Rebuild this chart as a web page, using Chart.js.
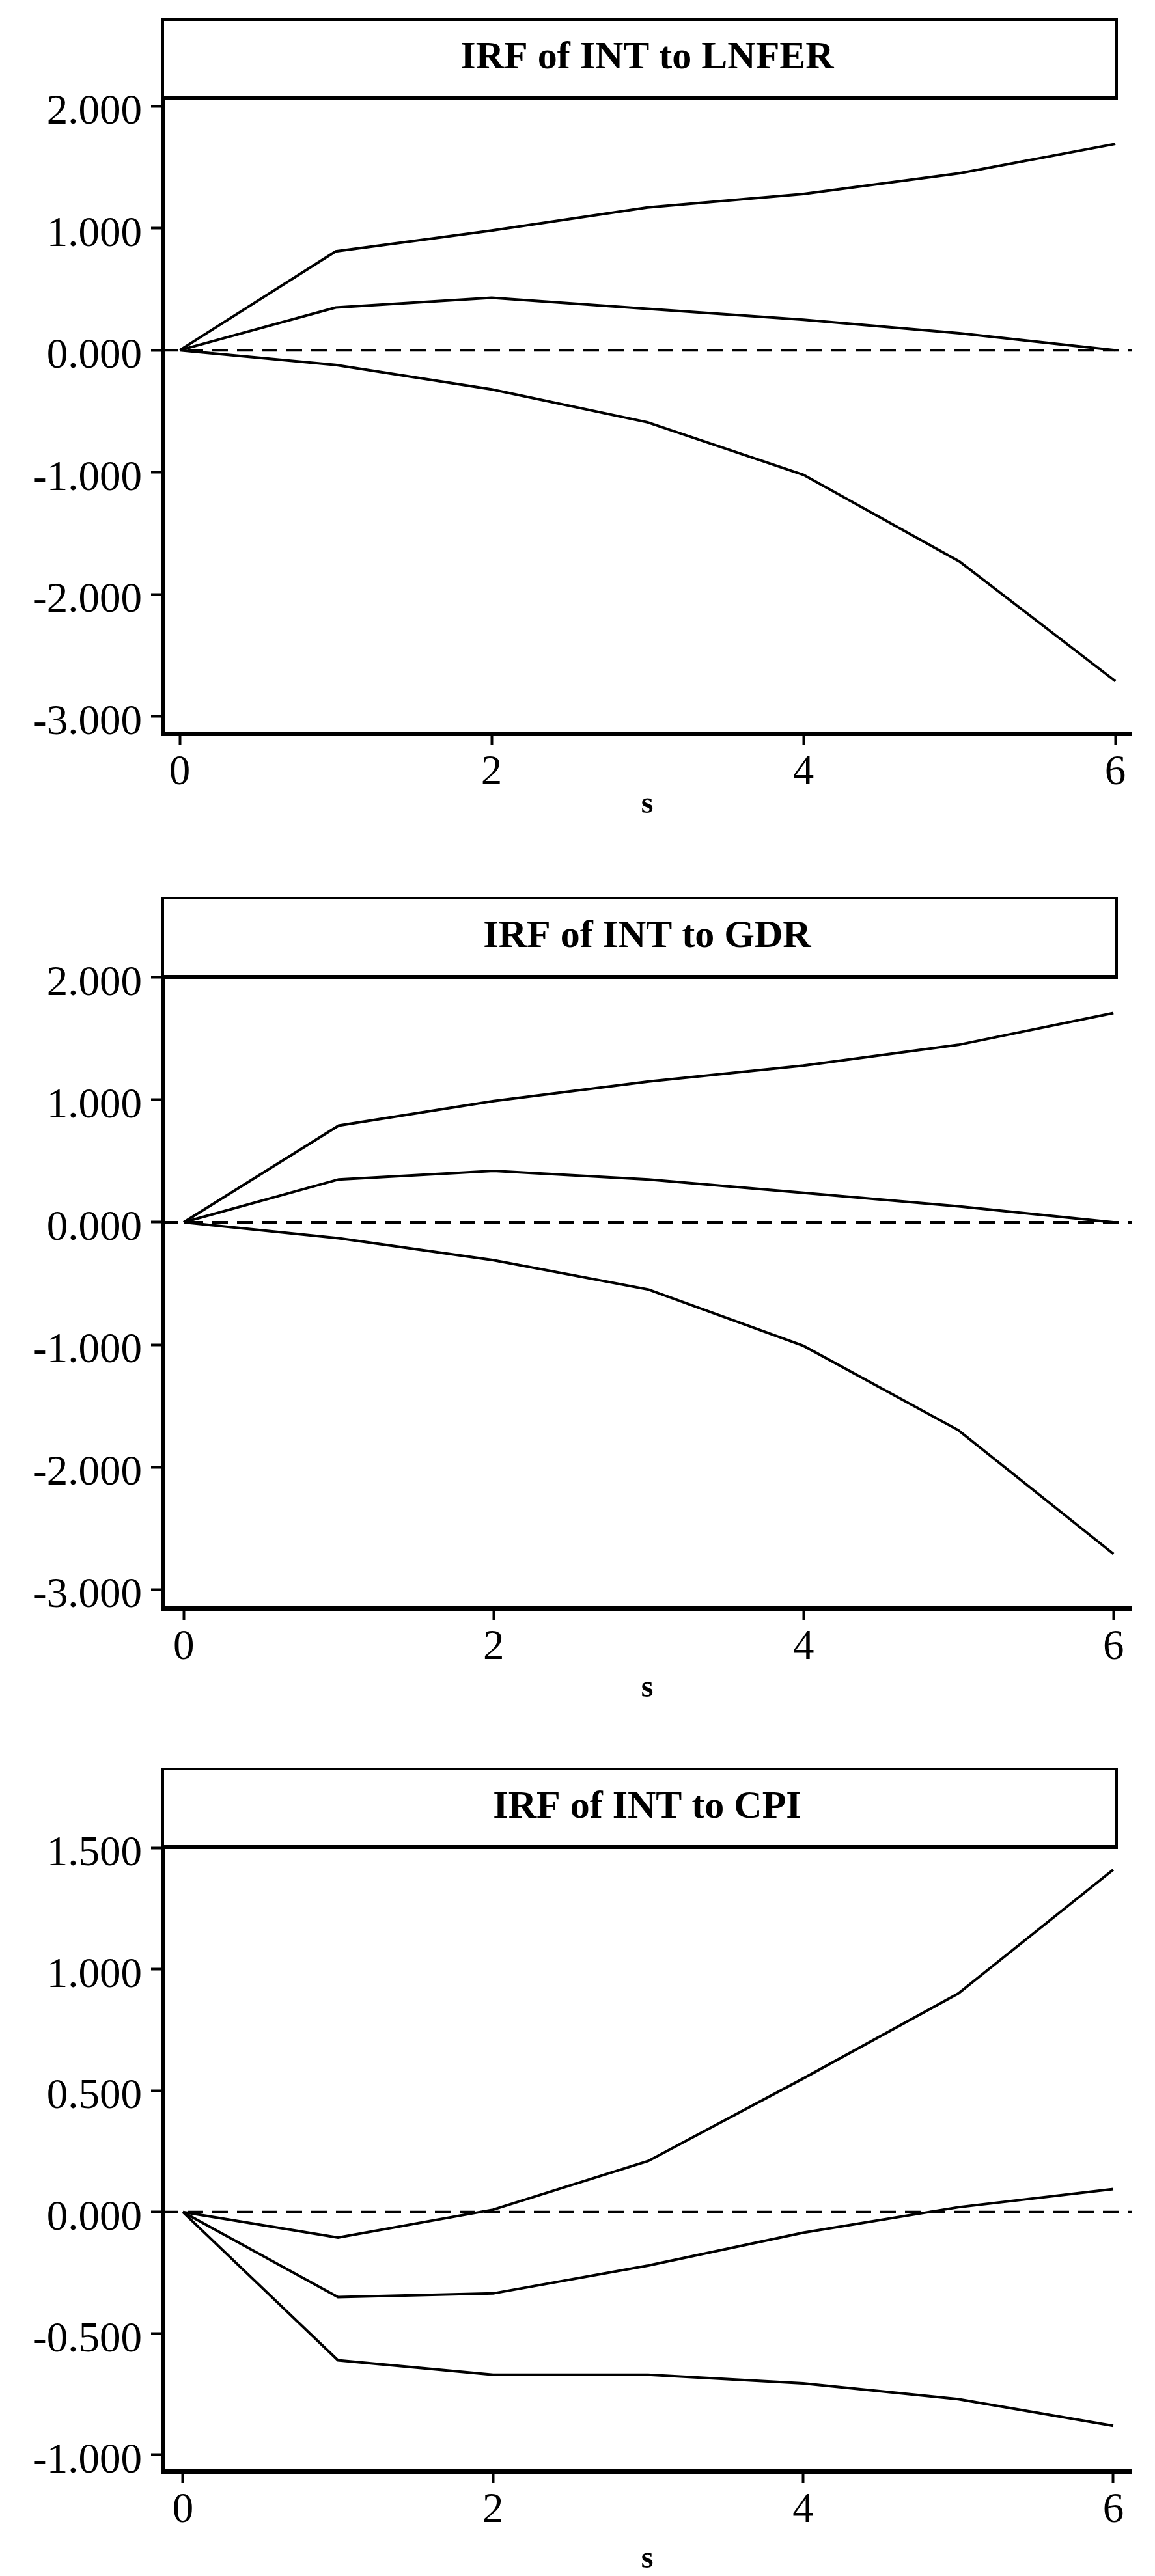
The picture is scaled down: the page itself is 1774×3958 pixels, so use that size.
<!DOCTYPE html>
<html>
<head>
<meta charset="utf-8">
<title>IRF of INT</title>
<script src="https://cdn.jsdelivr.net/npm/chart.js@4.4.0/dist/chart.umd.min.js"></script>
<style>
    html, body { margin: 0; padding: 0; background: #fff; }
    #wrap { position: relative; width: 1774px; height: 3958px; }
    .panel { position: absolute; left: 0; width: 1774px; }
</style>
</head>
<body>
<div id="wrap">
    <div class="panel" style="top:0px"><canvas id="chartLnfer" width="1774" height="1290"></canvas></div>
    <div class="panel" style="top:1290px"><canvas id="chartGdr" width="1774" height="1350"></canvas></div>
    <div class="panel" style="top:2640px"><canvas id="chartCpi" width="1774" height="1318"></canvas></div>
</div>
<script>
// horizon steps
const steps = [0, 1, 2, 3, 4, 5, 6];
const xTicks = [0, 2, 4, 6];

// IRF of INT to LNFER
const lnferIrf   = [0, 0.35, 0.43, 0.34, 0.25, 0.14, 0.00];
const lnferLower = [0, -0.12, -0.32, -0.59, -1.02, -1.73, -2.71];
const lnferUpper = [0, 0.81, 0.98, 1.17, 1.28, 1.45, 1.69];

// IRF of INT to GDR
const gdrIrf   = [0, 0.35, 0.42, 0.35, 0.24, 0.13, 0.00];
const gdrLower = [0, -0.13, -0.31, -0.55, -1.01, -1.70, -2.71];
const gdrUpper = [0, 0.79, 0.99, 1.15, 1.28, 1.45, 1.71];

// IRF of INT to CPI
const cpiIrf   = [0, -0.35, -0.335, -0.22, -0.085, 0.02, 0.095];
const cpiLower = [0, -0.61, -0.67, -0.67, -0.705, -0.77, -0.88];
const cpiUpper = [0, -0.105, 0.01, 0.21, 0.55, 0.90, 1.41];

const yTicksWide = [-3, -2, -1, 0, 1, 2];
const yTicksCpi  = [-1, -0.5, 0, 0.5, 1, 1.5];

Chart.defaults.font.family = "'Liberation Serif', 'DejaVu Serif', serif";
Chart.defaults.color = '#000';

const BOX_RIGHT = 1715;

// draws the frame round the title, from the y axis to the box edge
const titleBox = {
    id: 'titleBox',
    afterDraw(chart) {
        const { ctx, chartArea, titleBlock } = chart;
        if (!titleBlock) return;
        ctx.save();
        ctx.strokeStyle = '#000';
        ctx.lineWidth = 4;
        ctx.strokeRect(chartArea.left, titleBlock.top + 2, BOX_RIGHT - chartArea.left, chartArea.top - titleBlock.top - 2);
        ctx.lineWidth = 6;
        ctx.beginPath();
        ctx.moveTo(chartArea.left, chartArea.top);
        ctx.lineTo(BOX_RIGHT + 2, chartArea.top);
        ctx.stroke();
        ctx.restore();
    }
};

function pts(vals) { return steps.map((s, i) => ({ x: s, y: vals[i] })); }

function makePanel(id, title, irf, lower, upper, yTicks, yMin, yMax, xMin, xMax, g) {
    const line = (label, vals) => ({
        label, data: pts(vals),
        borderColor: '#000', borderWidth: 4, pointRadius: 0, tension: 0, fill: false
    });

    return new Chart(document.getElementById(id), {
        type: 'line',
        data: {
            datasets: [
                { label: 'zero', data: [{ x: xMin, y: 0 }, { x: xMax, y: 0 }],
                  borderColor: '#000', borderWidth: 4, borderDash: [24, 14], pointRadius: 0 },
                line('lower', lower),
                line('irf', irf),
                line('upper', upper)
            ]
        },
        options: {
            responsive: false,
            animation: false,
            layout: { padding: { top: g.boxTop, right: 36, left: 0, bottom: 0 } },
            plugins: {
                legend: { display: false },
                tooltip: { enabled: false },
                title: {
                    display: true, text: title, fullSize: false,
                    color: '#000',
                    font: { size: 60, weight: 'bold', lineHeight: 1.2 },
                    padding: { top: g.boxPad, bottom: g.boxPad }
                }
            },
            scales: {
                x: {
                    type: 'linear', min: xMin, max: xMax,
                    afterBuildTicks: s => { s.ticks = xTicks.map(v => ({ value: v })); },
                    afterFit: s => { s.height = g.axisH; },
                    grid: { drawOnChartArea: false, drawTicks: true, tickLength: 18, tickWidth: 4, tickColor: '#000' },
                    border: { display: true, width: 7, color: '#000' },
                    ticks: { autoSkip: false, maxRotation: 0, padding: 10, font: { size: 65, lineHeight: 1 },
                             callback: v => String(v) },
                    title: { display: true, text: 's', color: '#000',
                             font: { size: 48, weight: 'bold', lineHeight: 1 },
                             padding: { top: 0, bottom: g.sPad } }
                },
                y: {
                    type: 'linear', min: yMin, max: yMax,
                    afterBuildTicks: s => { s.ticks = yTicks.map(v => ({ value: v })); },
                    afterFit: s => { s.width = 250; },
                    grid: { drawOnChartArea: false, drawTicks: true, tickLength: 18, tickWidth: 4, tickColor: '#000' },
                    border: { display: true, width: 7, color: '#000' },
                    ticks: { autoSkip: false, padding: 14, labelOffset: 10, font: { size: 65, lineHeight: 1 },
                             callback: v => Number(v).toFixed(3) }
                }
            }
        },
        plugins: [titleBox]
    });
}

makePanel('chartLnfer', 'IRF of INT to LNFER', lnferIrf, lnferLower, lnferUpper,
    yTicksWide, -3.139, 2.064, -0.109, 6.104,
    { boxTop: 28, boxPad: 25.5, axisH: 163, sPad: 29 });

makePanel('chartGdr', 'IRF of INT to GDR', gdrIrf, gdrLower, gdrUpper,
    yTicksWide, -3.154, 2.005, -0.135, 6.117,
    { boxTop: 88, boxPad: 25.5, axisH: 169, sPad: 21 });

makePanel('chartCpi', 'IRF of INT to CPI', cpiIrf, cpiLower, cpiUpper,
    yTicksCpi, -1.067, 1.503, -0.130, 6.118,
    { boxTop: 76, boxPad: 25, axisH: 161, sPad: 1 });
</script>
</body>
</html>
